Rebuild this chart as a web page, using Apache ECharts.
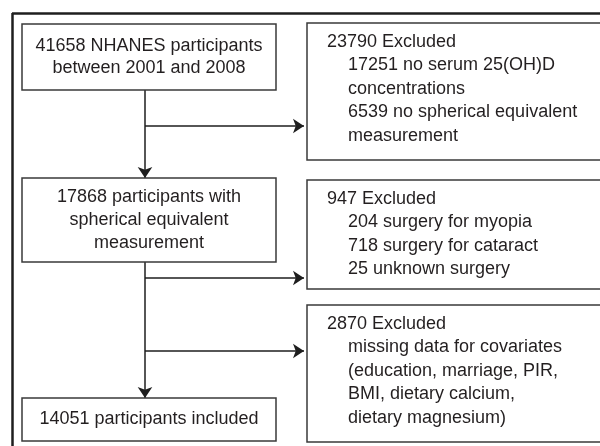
<!DOCTYPE html>
<html>
<head>
<meta charset="utf-8">
<script src="https://cdn.jsdelivr.net/npm/echarts@6/dist/echarts.min.js"></script>
<style>
  html, body { margin: 0; padding: 0; background: #fff; }
  #chart { width: 600px; height: 446px; }
</style>
</head>
<body>
<div id="chart"></div>
<script>
// textos del diagrama de flujo
const mainSteps = [
    '41658 NHANES participants\nbetween 2001 and 2008',
    '17868 participants with\nspherical equivalent\nmeasurement',
    '14051 participants included'
];
const exclusionHeads = ['23790 Excluded', '947 Excluded', '2870 Excluded'];
const exclusionDetails = [
    ['17251 no serum 25(OH)D', 'concentrations', '6539 no spherical equivalent', 'measurement'],
    ['204 surgery for myopia', '718 surgery for cataract', '25 unknown surgery'],
    ['missing data for covariates', '(education, marriage, PIR,', 'BMI, dietary calcium,', 'dietary magnesium)']
];

// posiciones de las cajas (x0, y0, x1, y1) en coordenadas de pixel del eje
const mainBoxes = [[22, 24, 276, 90], [22, 178, 276, 262], [22, 398, 276, 441]];
const mainLineHeight = [22, 23, 22];
const sideBoxes = [[307, 23, 610, 160], [307, 180, 610, 289], [307, 305, 610, 442]];
const spineX = 145;
const branchY = [126, 278, 351];

const FONT = '18px "Liberation Sans", Arial, sans-serif';
const TEXT = '#231f20';
const EDGE = '#3a3a3a';

function renderBox(params, api) {
    const kind = api.value(0);
    const i = api.value(1);
    const b = kind === 0 ? mainBoxes[i] : sideBoxes[i];
    const p0 = api.coord([b[0], b[1]]);
    const p1 = api.coord([b[2], b[3]]);
    const children = [{
        type: 'rect',
        shape: { x: p0[0], y: p0[1], width: p1[0] - p0[0], height: p1[1] - p0[1] },
        style: { fill: '#fff', stroke: EDGE, lineWidth: 1.5 }
    }];
    if (kind === 0) {
        const c = api.coord([(b[0] + b[2]) / 2, (b[1] + b[3]) / 2]);
        children.push({
            type: 'text',
            x: c[0], y: c[1],
            style: {
                text: mainSteps[i], font: FONT, fill: TEXT,
                align: 'center', verticalAlign: 'middle', lineHeight: mainLineHeight[i]
            }
        });
    } else {
        const lines = [exclusionHeads[i]].concat(exclusionDetails[i]);
        lines.forEach((t, k) => {
            const pt = api.coord([b[0] + (k === 0 ? 20 : 41), b[1] + 19 + k * 23.5]);
            children.push({
                type: 'text',
                x: pt[0], y: pt[1],
                style: { text: t, font: FONT, fill: TEXT, align: 'left', verticalAlign: 'middle' }
            });
        });
    }
    return { type: 'group', children: children };
}

const boxData = [];
mainSteps.forEach((s, i) => boxData.push([0, i]));
exclusionHeads.forEach((s, i) => boxData.push([1, i]));

// flechas
const arrows = [
    { coords: [[spineX, mainBoxes[0][3]], [spineX, mainBoxes[1][1]]] },
    { coords: [[spineX, mainBoxes[1][3]], [spineX, mainBoxes[2][1]]] }
];
branchY.forEach(y => arrows.push({ coords: [[spineX, y], [sideBoxes[0][0] - 3, y]] }));

const frame = [
    { coords: [[12, 13], [600, 13]] },
    { coords: [[12, 13], [12, 446]] }
];

const chart = echarts.init(document.getElementById('chart'));
chart.setOption({
    backgroundColor: '#fff',
    animation: false,
    grid: { left: 0, right: 0, top: 0, bottom: 0 },
    xAxis: { type: 'value', min: 0, max: 600, show: false },
    yAxis: { type: 'value', min: 0, max: 446, inverse: true, show: false },
    series: [
        {
            type: 'lines',
            coordinateSystem: 'cartesian2d',
            polyline: false,
            symbol: ['none', 'none'],
            lineStyle: { color: '#1e1e1e', width: 2.5, opacity: 1 },
            data: frame,
            silent: true
        },
        {
            type: 'lines',
            coordinateSystem: 'cartesian2d',
            symbol: ['none', 'arrow'],
            symbolSize: [8, 11],
            lineStyle: { color: '#1e1e1e', width: 1.5, opacity: 1 },
            data: arrows,
            silent: true
        },
        {
            type: 'custom',
            coordinateSystem: 'cartesian2d',
            renderItem: renderBox,
            data: boxData,
            clip: false,
            silent: true
        }
    ]
});
</script>
</body>
</html>
